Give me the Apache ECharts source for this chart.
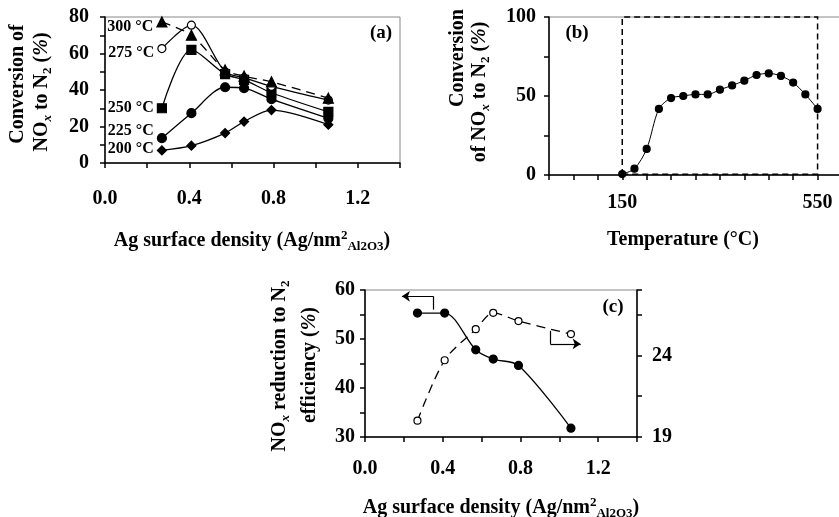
<!DOCTYPE html>
<html>
<head>
<meta charset="utf-8">
<script src="https://cdn.jsdelivr.net/npm/echarts@6/dist/echarts.min.js"></script>
<style>
html, body { margin: 0; padding: 0; background: #fff; }
#main { width: 839px; height: 517px; }
</style>
</head>
<body>
<div id="main"></div>
<script>
// panel (a): NOx -> N2 conversion vs Ag surface density at several temperatures
var agDensity = [0.27, 0.41, 0.57, 0.66, 0.79, 1.06];
var conv300 = [77.3, 70.0, 51.0, 47.6, 44.5, 35.5];
var conv275 = [62.7, 75.5, 50.0, 46.7, 42.0, 34.5];
var conv250 = [30.0, 62.0, 48.7, 45.5, 38.5, 28.0];
var conv225 = [13.6, 27.3, 41.5, 41.0, 35.0, 24.5];
var conv200 = [6.9, 9.5, 16.4, 22.7, 29.0, 21.0];
var tempNames = ['300 °C', '275 °C', '250 °C', '225 °C', '200 °C'];

// panel (b): conversion vs temperature
var temps = [150, 175, 200, 225, 250, 275, 300, 325, 350, 375, 400, 425, 450, 475, 500, 525, 550];
var convTemp = [0.6, 4.0, 16.5, 41.8, 48.7, 50.0, 51.0, 51.0, 54.0, 56.7, 59.7, 63.3, 64.3, 62.7, 58.5, 51.0, 41.8];
var windowX = [150, 550];
var windowY = [0.5, 100];

// panel (c): reduction (left axis) and efficiency (right axis)
var reduction = [55.3, 55.3, 47.8, 45.9, 44.6, 31.8];
var efficiency = [20.0, 23.7, 25.6, 26.6, 26.1, 25.3];
var leftArrow = [[0.352, 56.0], [0.352, 58.7], [0.19, 58.7]];
var rightArrow = [[0.954, 25.5], [0.954, 24.7], [1.11, 24.7]];

// tick labels that are printed
var densityLabels = [0, 0.4, 0.8, 1.2];
var convLabelsA = [0, 20, 40, 60, 80];
var convLabelsB = [0, 50, 100];
var tempLabels = [150, 550];
var reductionLabels = [30, 40, 50, 60];
var efficiencyLabels = [19, 24];

function pairs(xs, ys) {
    return xs.map(function (x, i) { return [x, ys[i]]; });
}
function shown(list, dec) {
    return function (v) {
        for (var i = 0; i < list.length; i++) {
            if (Math.abs(list[i] - v) < 1e-6) return dec ? v.toFixed(dec) : String(v);
        }
        return '';
    };
}

var serif = 'Liberation Serif';

function axis(extra) {
    var a = {
        type: 'value',
        axisLine: { show: true, onZero: false, lineStyle: { color: '#000', width: 1.5 } },
        axisTick: { show: true, inside: false, length: 5, lineStyle: { color: '#000', width: 1.5 } },
        splitLine: { show: false },
        axisLabel: { color: '#000', fontFamily: serif, fontWeight: 'bold', fontSize: 20 }
    };
    for (var k in extra) {
        if (k === 'axisLabel') {
            for (var j in extra.axisLabel) a.axisLabel[j] = extra.axisLabel[j];
        } else {
            a[k] = extra[k];
        }
    }
    return a;
}

function curve(name, xi, yi, ys, symbol, size, dashed, open) {
    return {
        name: name,
        type: 'line',
        xAxisIndex: xi,
        yAxisIndex: yi,
        data: pairs(xi === 1 ? temps : agDensity, ys),
        smooth: 0.3,
        symbol: symbol,
        symbolSize: size,
        showSymbol: true,
        lineStyle: { color: '#000', width: 1.3, type: dashed ? [9, 6] : 'solid' },
        itemStyle: { color: open ? '#fff' : '#000', borderColor: '#000', borderWidth: 1.2 },
        z: 3
    };
}

var rich = {
    s: { fontSize: 13, fontWeight: 'bold', fontFamily: serif, verticalAlign: 'bottom', lineHeight: 14 },
    si: { fontSize: 13, fontWeight: 'bold', fontStyle: 'italic', fontFamily: serif, verticalAlign: 'bottom', lineHeight: 14 },
    p: { fontSize: 13, fontWeight: 'bold', fontFamily: serif, verticalAlign: 'top', lineHeight: 14 },
    i: { fontSize: 20, fontWeight: 'bold', fontStyle: 'italic', fontFamily: serif }
};

function txt(x, y, text, rot, size) {
    return {
        type: 'text',
        x: x,
        y: y,
        rotation: rot ? Math.PI / 2 : 0,
        silent: true,
        style: {
            text: text,
            rich: rich,
            fill: '#000',
            fontFamily: serif,
            fontWeight: 'bold',
            fontSize: size || 20,
            lineHeight: 24,
            align: 'center',
            verticalAlign: 'middle'
        }
    };
}

var densityTitle = 'Ag surface density (Ag/nm{p|2}{s|Al2O3})';

var myChart = echarts.init(document.getElementById('main'));

var s300 = curve('300', 0, 0, conv300, 'triangle', 10, true, false);
var s275 = curve('275', 0, 0, conv275, 'circle', 8, false, true);
var s250 = curve('250', 0, 0, conv250, 'rect', 9, false, false);
var s225 = curve('225', 0, 0, conv225, 'circle', 9, false, false);
var s200 = curve('200', 0, 0, conv200, 'diamond', 9, false, false);
var labelOffsets = [[0, 5], [0, 4], [0, 0], [0, -7], [0, -2]];
[s300, s275, s250, s225, s200].forEach(function (s, i) {
    s.data[0] = {
        value: s.data[0],
        label: {
            show: true,
            position: 'left',
            distance: 3,
            offset: labelOffsets[i],
            formatter: tempNames[i],
            color: '#000',
            fontFamily: serif,
            fontWeight: 'bold',
            fontSize: 16
        }
    };
});

var sTemp = curve('b', 1, 1, convTemp, 'circle', 7, false, false);
sTemp.lineStyle.width = 1;
sTemp.markArea = {
    silent: true,
    itemStyle: { color: 'rgba(0,0,0,0)', borderColor: '#000', borderWidth: 1.5, borderType: [6, 4] },
    data: [[{ coord: [windowX[0], windowY[0]] }, { coord: [windowX[1], windowY[1]] }]]
};

function arrowLines(pts) {
    return {
        silent: true,
        lineStyle: { color: '#000', width: 1.2, type: 'solid' },
        label: { show: false },
        symbolSize: 8,
        data: [
            [{ coord: pts[0], symbol: 'none' }, { coord: pts[1], symbol: 'none' }],
            [{ coord: pts[1], symbol: 'none' }, { coord: pts[2], symbol: 'arrow' }]
        ]
    };
}

var sRed = curve('reduction', 2, 2, reduction, 'circle', 8, false, false);
sRed.markLine = arrowLines(leftArrow);
var sEff = curve('efficiency', 2, 3, efficiency, 'circle', 7, true, true);
sEff.markLine = arrowLines(rightArrow);

var option = {
    animation: false,
    backgroundColor: '#fff',
    grid: [
        { left: 105, top: 17, width: 295, height: 146, show: true, borderColor: '#888', borderWidth: 1, containLabel: false, outerBoundsMode: 'none' },
        { left: 549, top: 17, width: 293, height: 158, show: true, borderColor: '#888', borderWidth: 1, containLabel: false, outerBoundsMode: 'none' },
        { left: 365, top: 290, width: 272, height: 147, show: true, borderColor: '#888', borderWidth: 1, containLabel: false, outerBoundsMode: 'none' }
    ],
    xAxis: [
        axis({ gridIndex: 0, min: 0, max: 1.4, interval: 0.2, axisLabel: { margin: 26, formatter: shown(densityLabels, 1) } }),
        axis({ gridIndex: 1, min: 0, max: 600, interval: 50, axisLabel: { margin: 18, formatter: shown(tempLabels) } }),
        axis({ gridIndex: 2, min: 0, max: 1.4, interval: 0.2, axisLabel: { margin: 22, formatter: shown(densityLabels, 1) } })
    ],
    yAxis: [
        axis({ gridIndex: 0, min: 0, max: 80, interval: 10, axisLabel: { margin: 16, formatter: shown(convLabelsA) } }),
        axis({ gridIndex: 1, min: 0, max: 100, interval: 25, axisLabel: { margin: 13, formatter: shown(convLabelsB) } }),
        axis({ gridIndex: 2, min: 30, max: 60, interval: 5, axisLabel: { margin: 10, formatter: shown(reductionLabels) } }),
        axis({ gridIndex: 2, position: 'right', min: 19, max: 28, interval: 2.5, axisLabel: { margin: 15, formatter: shown(efficiencyLabels) } })
    ],
    series: [s200, s225, s250, s275, s300, sTemp, sRed, sEff],
    graphic: [
        txt(18, 84, 'Conversion of', true),
        txt(42, 92, 'NO{si|x} to N{s|2} ({i|%})', true),
        txt(252, 241, densityTitle, false),
        txt(381, 33, '(a)', false, 19),
        txt(458, 58, 'Conversion', true),
        txt(480, 92, 'of NO{si|x} to N{s|2} ({i|%})', true),
        txt(683, 240, 'Temperature (°C)', false),
        txt(577, 33, '(b)', false, 19),
        txt(280, 366, 'NO{si|x} reduction to N{s|2}', true),
        txt(310, 365, 'efficiency ({i|%})', true),
        txt(501, 508, densityTitle, false),
        txt(613, 307, '(c)', false, 19)
    ]
};

myChart.setOption(option);
</script>
</body>
</html>
